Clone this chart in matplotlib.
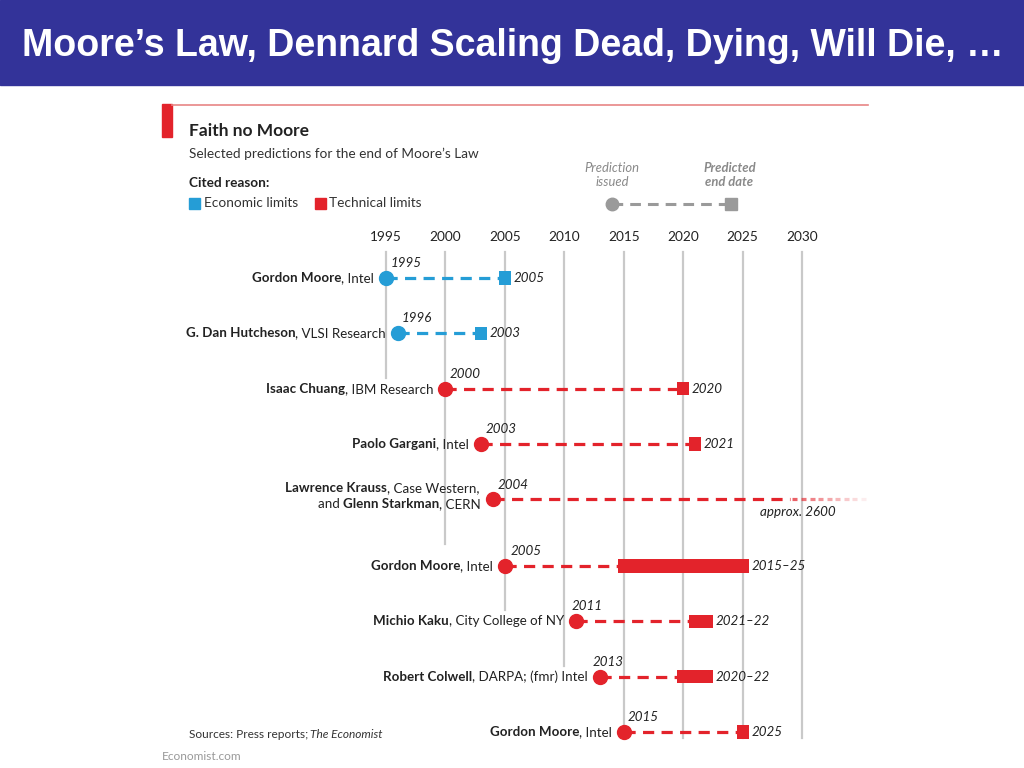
import matplotlib
matplotlib.use("Agg")
import matplotlib.pyplot as plt
from matplotlib.patches import Rectangle
from matplotlib import transforms

# data
names = [
    [[("Gordon Moore", "bold"), (", Intel", "normal")]],
    [[("G. Dan Hutcheson", "bold"), (", VLSI Research", "normal")]],
    [[("Isaac Chuang", "bold"), (", IBM Research", "normal")]],
    [[("Paolo Gargani", "bold"), (", Intel", "normal")]],
    [[("Lawrence Krauss", "bold"), (", Case Western,", "normal")],
     [("and ", "normal"), ("Glenn Starkman", "bold"), (", CERN", "normal")]],
    [[("Gordon Moore", "bold"), (", Intel", "normal")]],
    [[("Michio Kaku", "bold"), (", City College of NY", "normal")]],
    [[("Robert Colwell", "bold"), (", DARPA; (fmr) Intel", "normal")]],
    [[("Gordon Moore", "bold"), (", Intel", "normal")]],
]
issued = [1995, 1996, 2000, 2003, 2004, 2005, 2011, 2013, 2015]
end_lo = [2005, 2003, 2020, 2021, 2600, 2015, 2021, 2020, 2025]
end_hi = [2005, 2003, 2020, 2021, 2600, 2025, 2022, 2022, 2025]
end_text = ["2005", "2003", "2020", "2021", "approx. 2600", "2015–25", "2021–22", "2020–22", "2025"]
reason = ["econ", "econ", "tech", "tech", "tech", "tech", "tech", "tech", "tech"]
years = [1995, 2000, 2005, 2010, 2015, 2020, 2025, 2030]

# layout
row_y = [0, 1, 2, 3, 4, 5.2, 6.2, 7.2, 8.2]
grid_end = [1.8, 4.8, 6.0, 7.0, 8.3, 8.3, 8.3, 8.3]
issued_dx = [0.35, 0.35, 0.35, 0.35, 0.35, 0.45, -0.4, -0.6, 0.35]

BLUE = "#259dd6"
RED = "#e3232b"
GRID = "#c9c9c9"
TXT = "#222222"
colors = {"econ": BLUE, "tech": RED}

plt.rcParams['font.family'] = ['Lato', 'DejaVu Sans']
fs = 9.6

fig = plt.figure(figsize=(10.24, 7.68), dpi=100)
fig.patch.set_facecolor("white")
renderer = fig.canvas.get_renderer()

# title bar
fig.patches.append(Rectangle((0, 1 - 85 / 768), 1, 85 / 768, transform=fig.transFigure,
                             color="#333399", zorder=0))
fig.text(22 / 1024, 1 - 46 / 768, "Moore’s Law, Dennard Scaling Dead, Dying, Will Die, …",
         color="white", fontsize=27, fontweight="bold", va="center", ha="left",
         family=["Liberation Sans Narrow", "Liberation Sans", "DejaVu Sans"])

# Economist header
fig.patches.append(Rectangle((162 / 1024, 1 - 137 / 768), 10 / 1024, 33 / 768,
                             transform=fig.transFigure, color=RED))
fig.lines.append(plt.Line2D([172 / 1024, 868 / 1024], [1 - 104.5 / 768] * 2,
                            transform=fig.transFigure, color="#e88585", lw=1.2))
fig.text(189 / 1024, 1 - 131 / 768, "Faith no Moore", fontsize=12.5, fontweight="bold",
         color=TXT, va="center")
fig.text(189 / 1024, 1 - 154 / 768, "Selected predictions for the end of Moore’s Law",
         fontsize=9.8, color="#333333", va="center")
fig.text(189 / 1024, 1 - 183 / 768, "Cited reason:", fontsize=9.8, fontweight="bold",
         color=TXT, va="center")
fig.patches.append(Rectangle((189 / 1024, 1 - 209 / 768), 11 / 1024, 11 / 768,
                             transform=fig.transFigure, color=BLUE))
fig.text(204 / 1024, 1 - 203 / 768, "Economic limits", fontsize=9.8, color="#333333", va="center")
fig.patches.append(Rectangle((315 / 1024, 1 - 209 / 768), 11 / 1024, 11 / 768,
                             transform=fig.transFigure, color=RED))
fig.text(329 / 1024, 1 - 203 / 768, "Technical limits", fontsize=9.8, color="#333333", va="center")
src = fig.text(189 / 1024, 1 - 734 / 768, "Sources: Press reports;", fontsize=8.6,
               color="#333333", va="center")
src_w = src.get_window_extent(renderer).width
fig.text((189 + src_w + 2) / 1024, 1 - 734 / 768, "The Economist", fontsize=8.6,
         color="#333333", va="center", style="italic")
fig.text(162 / 1024, 1 - 756 / 768, "Economist.com", fontsize=8.6, color="#999999", va="center")

# main axes: x in years, y in rows
ax = fig.add_axes([386 / 1024, 1 - 732 / 768, 416 / 1024, 454 / 768])
ax.set_xlim(1995, 2030)
ax.set_ylim(8.2, 0)
ax.axis("off")

for yr, ge in zip(years, grid_end):
    ax.plot([yr, yr], [-0.47, ge], color=GRID, lw=1.6, zorder=1, clip_on=False)
    ax.text(yr, -0.74, str(yr), ha="center", va="center", fontsize=9.8, color=TXT)

# key
ax.plot([2014, 2024], [-1.34, -1.34], color="#9a9a9a", lw=2.2, ls=(0, (3.5, 2.3)), clip_on=False)
ax.plot(2014, -1.34, "o", color="#9a9a9a", ms=9, clip_on=False)
ax.plot(2024, -1.34, "s", color="#9a9a9a", ms=8.5, clip_on=False)
ax.text(2014, -1.86, "Prediction\nissued", ha="center", va="center", fontsize=9.4,
        style="italic", color="#8a8a8a", linespacing=1.25)
ax.text(2023.9, -1.86, "Predicted\nend date", ha="center", va="center", fontsize=9.4,
        style="italic", fontweight="bold", color="#8a8a8a", linespacing=1.25)


def draw_label(x, y, parts):
    # right-aligned text built from pieces of different weight
    shift = 0
    for txt, wt in reversed(parts):
        tr = transforms.offset_copy(ax.transData, fig=fig, x=-shift, y=0, units="dots")
        t = ax.text(x, y, txt, transform=tr, ha="right", va="center", fontsize=fs,
                    fontweight=wt, color=TXT)
        shift += t.get_window_extent(renderer).width


bar_h = 0.24
dash = (0, (3.5, 2.3))
for i in range(len(issued)):
    y = row_y[i]
    c = colors[reason[i]]
    lines = names[i]
    if len(lines) == 1:
        draw_label(issued[i] - 1.0, y, lines[0])
    else:
        draw_label(issued[i] - 1.15, y - 0.2, lines[0])
        draw_label(issued[i] - 1.0, y + 0.09, lines[1])
    ax.text(issued[i] + issued_dx[i], y - 0.27, str(issued[i]), ha="left", va="center",
            fontsize=fs, style="italic", color=TXT)
    if end_lo[i] > 2030:
        # off the chart: dashed line that fades out
        ax.plot([issued[i], 2029], [y, y], color=c, lw=2.3, ls=dash, zorder=2,
                dash_capstyle="butt", clip_on=False)
        steps = 9
        for k in range(steps):
            x0 = 2029.2 + k * 0.72
            a = 1 - (k + 1) / (steps + 1)
            ax.plot([x0, x0 + 0.42], [y, y], color=c, alpha=a * 0.8, lw=2.3, clip_on=False,
                    solid_capstyle="butt")
        ax.text(2032.8, y + 0.23, end_text[i], ha="right", va="center", fontsize=fs,
                style="italic", color=TXT, clip_on=False)
    else:
        ax.plot([issued[i], end_lo[i] - 0.5], [y, y], color=c, lw=2.3, ls=dash,
                zorder=2, dash_capstyle="butt", clip_on=False)
        ax.barh(y, end_hi[i] - end_lo[i] + 1, left=end_lo[i] - 0.5, height=bar_h, color=c,
                zorder=3, clip_on=False)
        ax.text(end_hi[i] + 0.75, y, end_text[i], ha="left", va="center", fontsize=fs,
                style="italic", color=TXT)
    ax.plot(issued[i], y, "o", color=c, ms=10, zorder=4, clip_on=False)

fig.savefig("out.png", dpi=100)
